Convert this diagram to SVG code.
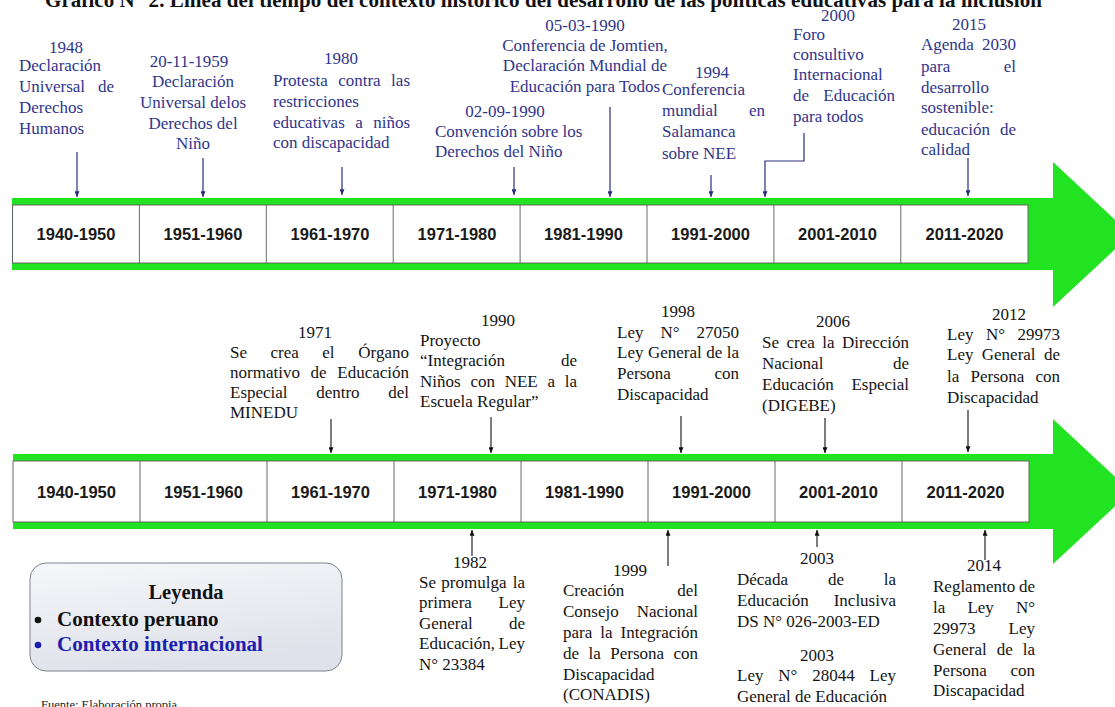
<svg xmlns="http://www.w3.org/2000/svg" width="1115" height="707" viewBox="0 0 1115 707">
<defs>
<style>
.t{font-family:"Liberation Serif","Times New Roman",serif;font-size:17px}
.blue{fill:#30358c}
.blk{fill:#141414}
.c{text-anchor:middle}
.r{text-anchor:end}
.cell{font-family:"Liberation Sans",Arial,sans-serif;font-weight:bold;font-size:16.5px;text-anchor:middle;fill:#1a1a1a}
.band{fill:#22e322}
.box{fill:#ffffff;stroke:#5a5a5a;stroke-width:0.9}
.div{stroke:#5a5a5a;stroke-width:0.9}
.cn{fill:none;stroke:#2a2f7a;stroke-width:1.2;marker-end:url(#ahb)}
.ck{fill:none;stroke:#111;stroke-width:1.1;marker-end:url(#ahk)}
</style>
<marker id="ahb" viewBox="0 0 8 7" refX="8" refY="3.5" markerWidth="6" markerHeight="5" markerUnits="userSpaceOnUse" orient="auto"><path d="M0,0 L8,3.5 L0,7 z" fill="#2a2f7a"/></marker>
<marker id="ahk" viewBox="0 0 8 7" refX="8" refY="3.5" markerWidth="6" markerHeight="5" markerUnits="userSpaceOnUse" orient="auto"><path d="M0,0 L8,3.5 L0,7 z" fill="#111"/></marker>
<linearGradient id="lg" x1="0" y1="0" x2="0.3" y2="1"><stop offset="0" stop-color="#f6f7fa"/><stop offset="1" stop-color="#dfe2ea"/></linearGradient>
</defs>
<rect width="1115" height="707" fill="#ffffff"/>

<text x="45" y="7" textLength="997" lengthAdjust="spacing" style="font-family:'Liberation Serif','Times New Roman',serif;font-weight:bold;font-size:21px;fill:#111">Gráfico N° 2. Línea del tiempo del contexto histórico del desarrollo de las políticas educativas para la inclusión</text>

<g id="timeline-top">
<path class="band" d="M12,198 H1053 V162 L1131,234.5 L1053,307 V270 H12 Z"/>
<rect class="box" x="12.5" y="205" width="1015.5" height="58"/>
<path class="div" d="M139.4,205V263M266.3,205V263M393.2,205V263M520.1,205V263M647,205V263M773.9,205V263M900.8,205V263"/>
<text class="cell" x="76" y="240">1940-1950</text>
<text class="cell" x="203" y="240">1951-1960</text>
<text class="cell" x="330" y="240">1961-1970</text>
<text class="cell" x="457" y="240">1971-1980</text>
<text class="cell" x="583.5" y="240">1981-1990</text>
<text class="cell" x="710.5" y="240">1991-2000</text>
<text class="cell" x="837.5" y="240">2001-2010</text>
<text class="cell" x="964.5" y="240">2011-2020</text>
</g>

<g id="timeline-bottom">
<path class="band" d="M13,454 H1053 V419 L1131,491.5 L1053,564 V529 H13 Z"/>
<rect class="box" x="13" y="461" width="1016" height="61"/>
<path class="div" d="M140,461V522M267,461V522M394,461V522M521,461V522M648,461V522M775,461V522M902,461V522"/>
<text class="cell" x="76.5" y="498">1940-1950</text>
<text class="cell" x="203.5" y="498">1951-1960</text>
<text class="cell" x="330.5" y="498">1961-1970</text>
<text class="cell" x="457.5" y="498">1971-1980</text>
<text class="cell" x="584.5" y="498">1981-1990</text>
<text class="cell" x="711.5" y="498">1991-2000</text>
<text class="cell" x="838.5" y="498">2001-2010</text>
<text class="cell" x="965.5" y="498">2011-2020</text>
</g>

<g id="ev-1948" class="t blue">
<text class="c" x="66" y="53">1948</text>
<text x="19" y="71">Declaración</text>
<text x="19" y="92">Universal</text><text class="r" x="114" y="92">de</text>
<text x="19" y="113">Derechos</text>
<text x="19" y="134">Humanos</text>
</g>

<g id="ev-1959" class="t blue">
<text class="c" x="189" y="67">20-11-1959</text>
<text class="c" x="193" y="87">Declaración</text>
<text class="c" x="193" y="108">Universal delos</text>
<text class="c" x="193" y="129">Derechos del</text>
<text class="c" x="193" y="149">Niño</text>
</g>

<g id="ev-1980" class="t blue">
<text class="c" x="341" y="64">1980</text>
<text x="273" y="86">Protesta</text><text x="338.2" y="86">contra</text><text class="r" x="410" y="86">las</text>
<text x="273" y="107">restricciones</text>
<text x="273" y="128">educativas</text><text x="355.2" y="128">a</text><text class="r" x="410" y="128">niños</text>
<text x="273" y="148">con discapacidad</text>
</g>

<g id="ev-1990-convencion" class="t blue">
<text class="c" x="505" y="117">02-09-1990</text>
<text x="435" y="137">Convención sobre los</text>
<text x="435" y="157">Derechos del Niño</text>
</g>

<g id="ev-1990-jomtien" class="t blue">
<text class="c" x="585" y="31">05-03-1990</text>
<text class="c" x="585" y="51">Conferencia de Jomtien,</text>
<text class="c" x="585" y="71">Declaración Mundial de</text>
<text class="c" x="585" y="92">Educación para Todos</text>
</g>

<g id="ev-1994" class="t blue">
<text class="c" x="712" y="78">1994</text>
<text x="662" y="95">Conferencia</text>
<text x="662" y="116">mundial</text><text class="r" x="765" y="116">en</text>
<text x="662" y="137">Salamanca</text>
<text x="662" y="159">sobre NEE</text>
</g>

<g id="ev-2000" class="t blue">
<text class="c" x="838" y="21">2000</text>
<text x="793" y="40">Foro</text>
<text x="793" y="60">consultivo</text>
<text x="793" y="80">Internacional</text>
<text x="793" y="101">de</text><text class="r" x="895" y="101">Educación</text>
<text x="793" y="122">para todos</text>
</g>

<g id="ev-2015" class="t blue">
<text class="c" x="969" y="30">2015</text>
<text x="921" y="50">Agenda</text><text class="r" x="1016" y="50">2030</text>
<text x="921" y="72">para</text><text class="r" x="1016" y="72">el</text>
<text x="921" y="93">desarrollo</text>
<text x="921" y="113">sostenible:</text>
<text x="921" y="135">educación</text><text class="r" x="1016" y="135">de</text>
<text x="921" y="155">calidad</text>
</g>

<g id="ev-1971" class="t blk">
<text class="c" x="315" y="338">1971</text>
<text x="230" y="358">Se</text><text x="270.5" y="358">crea</text><text x="322.3" y="358">el</text><text class="r" x="409" y="358">Órgano</text>
<text x="230" y="378">normativo</text><text x="310.6" y="378">de</text><text class="r" x="409" y="378">Educación</text>
<text x="230" y="398">Especial</text><text x="316.2" y="398">dentro</text><text class="r" x="409" y="398">del</text>
<text x="230" y="418">MINEDU</text>
</g>

<g id="ev-1990-proyecto" class="t blk">
<text class="c" x="498" y="326">1990</text>
<text x="420" y="346">Proyecto</text>
<text x="420" y="366">“Integración</text><text class="r" x="577" y="366">de</text>
<text x="420" y="387">Niños</text><text x="470.4" y="387">con</text><text x="504.7" y="387">NEE</text><text x="547.5" y="387">a</text><text class="r" x="577" y="387">la</text>
<text x="420" y="407">Escuela Regular”</text>
</g>

<g id="ev-1998" class="t blk">
<text class="c" x="678" y="317">1998</text>
<text x="617" y="338">Ley</text><text x="660.4" y="338">N°</text><text class="r" x="739" y="338">27050</text>
<text x="617" y="358">Ley</text><text x="647.9" y="358">General</text><text x="706.2" y="358">de</text><text class="r" x="739" y="358">la</text>
<text x="617" y="379">Persona</text><text class="r" x="739" y="379">con</text>
<text x="617" y="400">Discapacidad</text>
</g>

<g id="ev-2006" class="t blk">
<text class="c" x="833" y="327">2006</text>
<text x="762" y="348">Se</text><text x="786.5" y="348">crea</text><text x="822.3" y="348">la</text><text class="r" x="909" y="348">Dirección</text>
<text x="762" y="369">Nacional</text><text class="r" x="909" y="369">de</text>
<text x="762" y="390">Educación</text><text class="r" x="909" y="390">Especial</text>
<text x="762" y="411">(DIGEBE)</text>
</g>

<g id="ev-2012" class="t blk">
<text class="c" x="1009" y="320">2012</text>
<text x="947" y="340">Ley</text><text x="985.9" y="340">N°</text><text class="r" x="1060" y="340">29973</text>
<text x="947" y="360">Ley</text><text x="981.8" y="360">General</text><text class="r" x="1060" y="360">de</text>
<text x="947" y="382">la</text><text x="970.5" y="382">Persona</text><text class="r" x="1060" y="382">con</text>
<text x="947" y="403">Discapacidad</text>
</g>

<g id="ev-1982" class="t blk">
<text class="c" x="470" y="568">1982</text>
<text x="419" y="588">Se</text><text x="441.3" y="588">promulga</text><text class="r" x="525" y="588">la</text>
<text x="419" y="608">primera</text><text class="r" x="525" y="608">Ley</text>
<text x="419" y="629">General</text><text class="r" x="525" y="629">de</text>
<text x="419" y="649">Educación,</text><text class="r" x="525" y="649">Ley</text>
<text x="419" y="670">N° 23384</text>
</g>

<g id="ev-1999" class="t blk">
<text class="c" x="630" y="576">1999</text>
<text x="563" y="596">Creación</text><text class="r" x="698" y="596">del</text>
<text x="563" y="617">Consejo</text><text class="r" x="698" y="617">Nacional</text>
<text x="563" y="638">para</text><text x="600.3" y="638">la</text><text class="r" x="698" y="638">Integración</text>
<text x="563" y="659">de</text><text x="588.5" y="659">la</text><text x="610.3" y="659">Persona</text><text class="r" x="698" y="659">con</text>
<text x="563" y="680">Discapacidad</text>
<text x="563" y="700">(CONADIS)</text>
</g>

<g id="ev-2003" class="t blk">
<text class="c" x="817" y="564">2003</text>
<text x="737" y="585">Década</text><text x="827.9" y="585">de</text><text class="r" x="896" y="585">la</text>
<text x="737" y="606">Educación</text><text class="r" x="896" y="606">Inclusiva</text>
<text x="737" y="627">DS N° 026-2003-ED</text>
<text class="c" x="817" y="661">2003</text>
<text x="737" y="681">Ley</text><text x="778.3" y="681">N°</text><text x="812.3" y="681">28044</text><text class="r" x="896" y="681">Ley</text>
<text x="737" y="702">General de Educación</text>
</g>

<g id="ev-2014" class="t blk">
<text class="c" x="984" y="571">2014</text>
<text x="933" y="592">Reglamento</text><text class="r" x="1035" y="592">de</text>
<text x="933" y="613">la</text><text x="967.4" y="613">Ley</text><text class="r" x="1035" y="613">N°</text>
<text x="933" y="634">29973</text><text class="r" x="1035" y="634">Ley</text>
<text x="933" y="655">General</text><text x="996.8" y="655">de</text><text class="r" x="1035" y="655">la</text>
<text x="933" y="676">Persona</text><text class="r" x="1035" y="676">con</text>
<text x="933" y="696">Discapacidad</text>
</g>

<g id="connectors">
<path class="cn" d="M77,152V197"/>
<path class="cn" d="M203,158V197"/>
<path class="cn" d="M342,167V195"/>
<path class="cn" d="M514,167V195"/>
<path class="cn" d="M610,107V197"/>
<path class="cn" d="M711,175V197"/>
<path class="cn" d="M804,133V161H765V197"/>
<path class="cn" d="M968,158V196"/>
<path class="ck" d="M331,419V453"/>
<path class="ck" d="M491,417V453"/>
<path class="ck" d="M681,416V453"/>
<path class="ck" d="M825,418V453"/>
<path class="ck" d="M968,410V452"/>
<path class="ck" d="M472,556V530"/>
<path class="ck" d="M668,566V530"/>
<path class="ck" d="M817,547V530"/>
<path class="ck" d="M985,560V530"/>
</g>

<g id="legend">
<rect x="30" y="563" width="312" height="108" rx="16" fill="url(#lg)" stroke="#7d838f" stroke-width="1"/>
<text x="186" y="599" text-anchor="middle" style="font-family:'Liberation Serif','Times New Roman',serif;font-weight:bold;font-size:20.5px;fill:#111">Leyenda</text>
<circle cx="38" cy="620" r="3.3" fill="#111"/>
<text x="57" y="626" style="font-family:'Liberation Serif','Times New Roman',serif;font-weight:bold;font-size:21px;fill:#111">Contexto peruano</text>
<circle cx="38" cy="645" r="3.3" fill="#1d1db0"/>
<text x="57" y="651" style="font-family:'Liberation Serif','Times New Roman',serif;font-weight:bold;font-size:21px;fill:#1d1db0">Contexto internacional</text>
</g>

<text id="source" x="41" y="709" style="font-family:'Liberation Serif','Times New Roman',serif;font-size:12.5px;fill:#222">Fuente: Elaboración propia</text>
</svg>
